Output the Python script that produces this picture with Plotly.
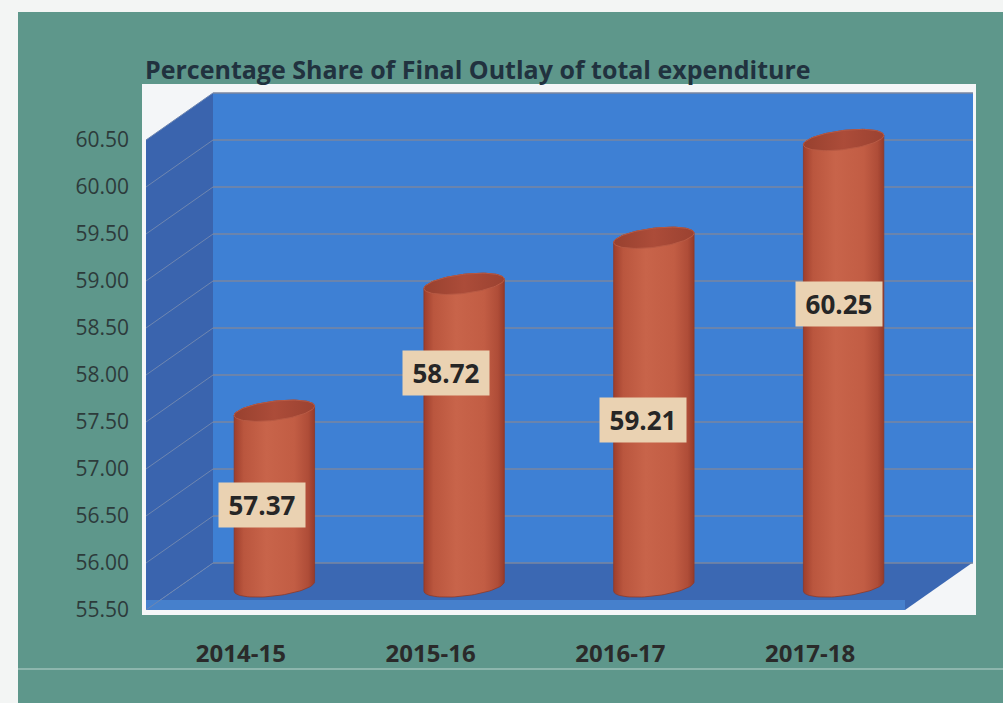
import numpy as np
import plotly.graph_objects as go

# ---- data ----
categories = ["2014-15", "2015-16", "2016-17", "2017-18"]
share = [57.37, 58.72, 59.21, 60.25]
y_ticks = [55.5, 56.0, 56.5, 57.0, 57.5, 58.0, 58.5, 59.0, 59.5, 60.0, 60.5]
y_ticktext = [f"{v:.2f}" for v in y_ticks]

# where each value box sits (data coordinates)
label_x = [0.11, 1.08, 2.12, 3.15]
label_y = [56.62, 58.02, 57.52, 58.76]

# ---- geometry of the pseudo-3D frame ----
W, H = 1003, 703
ML, MR, MT, MB = 146, 30, 85, 93
PW, PH = W - ML - MR, H - MT - MB
Y0 = 55.5
PX_X = 189.75            # pixels per category step
PX_Y = 94.0              # pixels per unit of value
X_RANGE = [-0.5, -0.5 + PW / PX_X]
Y_RANGE = [Y0, Y0 + PH / PX_Y]
DX = 67 / PX_X           # depth offset towards the back wall
DY = 0.5
YTOP = 60.5

def px_x(px):
    return (px - ML) / PW

def px_y(py):
    return (H - MB - py) / PH

fig = go.Figure()

# back wall, side wall, floor
back = dict(x=[-0.5 + DX, X_RANGE[1], X_RANGE[1], -0.5 + DX],
            y=[Y0 + DY, Y0 + DY, YTOP + DY, YTOP + DY])
side = dict(x=[-0.5, -0.5, -0.5 + DX, -0.5 + DX],
            y=[Y0, YTOP, YTOP + DY, Y0 + DY])
floor = dict(x=[-0.5, 3.5, 3.5 + DX, -0.5 + DX],
             y=[Y0, Y0, Y0 + DY, Y0 + DY])
edge_h = 10 / PX_Y
floor_edge = dict(x=[-0.5, 3.5, 3.5, -0.5],
                  y=[Y0, Y0, Y0 + edge_h, Y0 + edge_h])

for poly, col in [(back, "#3E80D4"), (side, "#3A64AE"),
                  (floor, "#3B68B3"), (floor_edge, "#4680CC")]:
    fig.add_trace(go.Scatter(x=poly["x"] + [poly["x"][0]], y=poly["y"] + [poly["y"][0]],
                             mode="lines", fill="toself", fillcolor=col,
                             line=dict(width=0), hoverinfo="skip", showlegend=False))

# gridlines on the back wall and the side wall
grid_col = "#7A86A0"
for v in y_ticks:
    fig.add_trace(go.Scatter(x=[-0.5 + DX, X_RANGE[1]], y=[v + DY, v + DY], mode="lines",
                             line=dict(color=grid_col, width=1.4),
                             hoverinfo="skip", showlegend=False))
    fig.add_trace(go.Scatter(x=[-0.5, -0.5 + DX], y=[v, v + DY], mode="lines",
                             line=dict(color="#6F86B0", width=1),
                             hoverinfo="skip", showlegend=False))

# ---- cylinders ----
A_PX, B_PX, THETA = 40.5, 9.5, np.deg2rad(7)

def ellipse(cx, cy, n=90):
    t = np.linspace(0, 2 * np.pi, n)
    ex = A_PX * np.cos(t) * np.cos(THETA) - B_PX * np.sin(t) * np.sin(THETA)
    ey = A_PX * np.cos(t) * np.sin(THETA) + B_PX * np.sin(t) * np.cos(THETA)
    return cx + ex / PX_X, cy + ey / PX_Y

def hull(px, py):
    pts = sorted(set(zip(np.round(px * PX_X, 4), np.round(py * PX_Y, 4))))
    def cross(o, a, b):
        return (a[0] - o[0]) * (b[1] - o[1]) - (a[1] - o[1]) * (b[0] - o[0])
    lower, upper = [], []
    for p in pts:
        while len(lower) >= 2 and cross(lower[-2], lower[-1], p) <= 0:
            lower.pop()
        lower.append(p)
    for p in reversed(pts):
        while len(upper) >= 2 and cross(upper[-2], upper[-1], p) <= 0:
            upper.pop()
        upper.append(p)
    h = lower[:-1] + upper[:-1]
    h.append(h[0])
    return [p[0] / PX_X for p in h], [p[1] / PX_Y for p in h]

body_scale = [[0, "#9E3E2C"], [0.12, "#BA563E"], [0.4, "#C8644A"],
              [0.75, "#C25D44"], [0.92, "#AF4D38"], [1, "#963B2A"]]
top_scale = [[0, "#98412F"], [0.5, "#AC4C39"], [1, "#9B4231"]]

for i, v in enumerate(share):
    cx = i + DX / 2
    bx, by = ellipse(cx, Y0 + DY / 2)
    tx, ty = ellipse(cx, v + DY / 2)
    hx, hy = hull(np.concatenate([bx, tx]), np.concatenate([by, ty]))
    fig.add_trace(go.Scatter(x=hx, y=hy, mode="lines", fill="toself",
                             fillgradient=dict(type="horizontal", colorscale=body_scale),
                             line=dict(width=0.8, color="#8E3A2A"),
                             hoverinfo="skip", showlegend=False))
    fig.add_trace(go.Scatter(x=tx, y=ty, mode="lines", fill="toself",
                             fillgradient=dict(type="horizontal", colorscale=top_scale),
                             line=dict(width=1, color="#B85A44"),
                             hoverinfo="skip", showlegend=False))
    fig.add_annotation(x=label_x[i], y=label_y[i], xref="x", yref="y",
                       text=f"<b>{v:.2f}</b>", showarrow=False,
                       font=dict(family="Open Sans", size=26, color="#262626"),
                       bgcolor="#EAD2B2", width=76, height=34, borderpad=5)

# ---- background panels ----
shapes = [
    dict(type="rect", xref="paper", yref="paper", layer="below",
         x0=px_x(18), x1=px_x(1010), y0=px_y(712), y1=px_y(12),
         fillcolor="#5E978B", line=dict(width=0)),
    dict(type="line", xref="paper", yref="paper", layer="below",
         x0=px_x(18), x1=px_x(1010), y0=px_y(669), y1=px_y(669),
         line=dict(color="rgba(235,245,240,0.45)", width=1.5)),
    dict(type="rect", xref="paper", yref="paper", layer="below",
         x0=px_x(143), x1=px_x(975), y0=px_y(614), y1=px_y(85),
         fillcolor="#F4F6F8", line=dict(color="#F4F6F8", width=2)),
]

fig.update_layout(
    width=W, height=H,
    margin=dict(l=ML, r=MR, t=MT, b=MB, pad=0),
    paper_bgcolor="#F3F5F4",
    plot_bgcolor="rgba(0,0,0,0)",
    shapes=shapes,
    title=dict(text="<b>Percentage Share of Final Outlay of total expenditure</b>",
               x=145 / W, xanchor="left", xref="container",
               y=1 - 70 / H, yanchor="middle", yref="container",
               font=dict(family="Open Sans", size=25, color="#21323F")),
    xaxis=dict(range=X_RANGE, tickvals=list(range(len(categories))), ticktext=categories,
               showgrid=False, zeroline=False, showline=False, ticks="",
               ticklabelstandoff=27,
               tickfont=dict(family="Open Sans", size=24, color="#2A2A2A", weight="bold")),
    yaxis=dict(range=Y_RANGE, tickvals=y_ticks, ticktext=y_ticktext,
               showgrid=False, zeroline=False, showline=False, ticks="",
               ticklabelstandoff=16,
               tickfont=dict(family="Open Sans", size=21, color="#2D3B3B")),
    showlegend=False,
)

fig.write_html("out.html")
